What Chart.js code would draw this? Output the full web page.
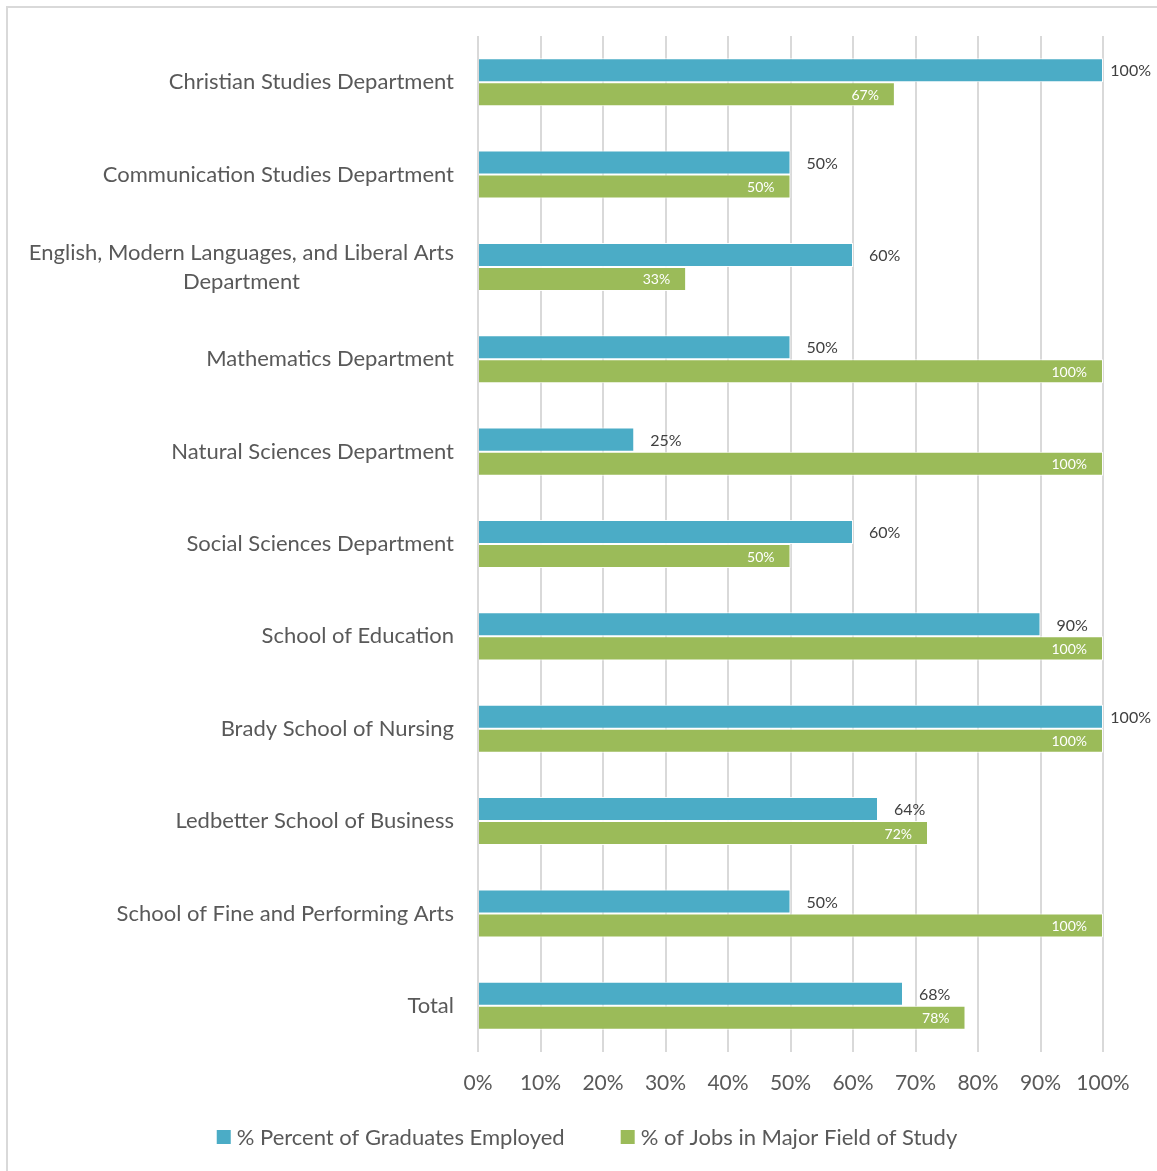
<!DOCTYPE html>
<html>
<head>
<meta charset="utf-8">
<script src="https://cdn.jsdelivr.net/npm/chart.js@4.4.0/dist/chart.umd.min.js"></script>
<style>
  html, body { margin: 0; padding: 0; background: #fff; overflow: hidden; }
</style>
</head>
<body>
<canvas id="myChart" width="1157" height="1171"></canvas>
<script>
// Chart data
const categories = [
  ['Christian Studies Department'],
  ['Communication Studies Department'],
  ['English, Modern Languages, and Liberal Arts', 'Department'],
  ['Mathematics Department'],
  ['Natural Sciences Department'],
  ['Social Sciences Department'],
  ['School of Education'],
  ['Brady School of Nursing'],
  ['Ledbetter School of Business'],
  ['School of Fine and Performing Arts'],
  ['Total']
];
const employed = [100, 50, 60, 50, 25, 60, 90, 100, 64, 50, 68];
const jobsInField = [66.7, 50, 33.3, 100, 100, 50, 100, 100, 72, 100, 78];
const seriesNames = ['% Percent of Graduates Employed', '% of Jobs in Major Field of Study'];
const seriesColors = ['#4bacc6', '#9bbb59'];
const xTickValues = [0, 10, 20, 30, 40, 50, 60, 70, 80, 90, 100];

const FONT = 'Lato, "Open Sans", sans-serif';

// light frame round the chart (top and left edges only are visible)
const framePlugin = {
  id: 'frame',
  beforeDraw(chart) {
    const ctx = chart.ctx;
    ctx.save();
    ctx.strokeStyle = '#d9d9d9';
    ctx.lineWidth = 2;
    ctx.beginPath();
    ctx.moveTo(7, chart.height + 5);
    ctx.lineTo(7, 7);
    ctx.lineTo(chart.width + 5, 7);
    ctx.stroke();
    ctx.restore();
  }
};

// category labels: right aligned block, lines centred within it
const categoryLabels = {
  id: 'categoryLabels',
  afterDraw(chart) {
    const ctx = chart.ctx;
    const yScale = chart.scales.y;
    const right = chart.chartArea.left - 24;
    const lineH = 29;
    ctx.save();
    ctx.font = '22px ' + FONT;
    ctx.fillStyle = '#595959';
    ctx.textAlign = 'center';
    ctx.textBaseline = 'middle';
    categories.forEach((lines, i) => {
      const y = yScale.getPixelForValue(i);
      const maxW = Math.max(...lines.map(l => ctx.measureText(l).width));
      const cx = right - maxW / 2;
      const y0 = y - (lines.length - 1) * lineH / 2;
      lines.forEach((l, j) => ctx.fillText(l, cx, y0 + j * lineH));
    });
    ctx.restore();
  }
};

// value labels: outside end for the first series, inside end for the second
const barLabels = {
  id: 'barLabels',
  afterDatasetsDraw(chart) {
    const ctx = chart.ctx;
    chart.data.datasets.forEach((ds, di) => {
      const meta = chart.getDatasetMeta(di);
      meta.data.forEach((bar, i) => {
        const txt = Math.round(ds.data[i]) + '%';
        ctx.save();
        ctx.textBaseline = 'middle';
        if (di === 0) {
          ctx.font = '16px ' + FONT;
          ctx.fillStyle = '#404040';
          ctx.textAlign = 'left';
          const w = ctx.measureText(txt).width;
          let x = bar.x + 16;
          if (x + w > chart.width - 6) x = chart.width - 6 - w;
          ctx.fillText(txt, x, bar.y + 1);
        } else {
          ctx.font = '14px ' + FONT;
          ctx.fillStyle = '#ffffff';
          ctx.textAlign = 'right';
          ctx.fillText(txt, bar.x - 16, bar.y + 1);
        }
        ctx.restore();
      });
    });
  }
};

// legend below the axis
const bottomLegend = {
  id: 'bottomLegend',
  afterDraw(chart) {
    const ctx = chart.ctx;
    const box = 14, gapText = 6, gapItem = 56;
    ctx.save();
    ctx.font = '22px ' + FONT;
    ctx.textBaseline = 'middle';
    ctx.textAlign = 'left';
    const widths = chart.data.datasets.map(d => box + gapText + ctx.measureText(d.label).width);
    const total = widths.reduce((a, b) => a + b, 0) + gapItem * (widths.length - 1);
    let x = 587 - total / 2;
    const y = chart.height - 34;
    chart.data.datasets.forEach((d, i) => {
      ctx.fillStyle = d.backgroundColor;
      ctx.fillRect(x, y - box / 2, box, box);
      ctx.fillStyle = '#595959';
      ctx.fillText(d.label, x + box + gapText, y + 1);
      x += widths[i] + gapItem;
    });
    ctx.restore();
  }
};

const ctx = document.getElementById('myChart').getContext('2d');
const chart = new Chart(ctx, {
  type: 'bar',
  data: {
    labels: categories.map(c => c.join(' ')),
    datasets: [
      {
        label: seriesNames[0],
        data: employed,
        backgroundColor: seriesColors[0],
        borderColor: 'rgba(255,255,255,0.9)',
        borderWidth: 1
      },
      {
        label: seriesNames[1],
        data: jobsInField,
        backgroundColor: seriesColors[1],
        borderColor: 'rgba(255,255,255,0.9)',
        borderWidth: 1
      }
    ]
  },
  options: {
    indexAxis: 'y',
    responsive: false,
    animation: false,
    devicePixelRatio: 1,
    categoryPercentage: 0.52,
    barPercentage: 1,
    layout: {
      padding: { left: 0, right: 54, top: 36, bottom: 59 }
    },
    scales: {
      x: {
        min: 0,
        max: 100,
        afterBuildTicks: function(scale) {
          scale.ticks = xTickValues.map(v => ({ value: v }));
        },
        afterFit: function(scale) {
          scale.height = 60;
        },
        grid: {
          color: '#d9d9d9',
          lineWidth: 2,
          drawTicks: false
        },
        border: { display: false },
        ticks: {
          padding: 19,
          maxRotation: 0,
          autoSkip: false,
          color: '#595959',
          font: { family: FONT, size: 21 },
          callback: function(v) { return v + '%'; }
        }
      },
      y: {
        afterFit: function(scale) {
          scale.width = 478;
        },
        grid: { display: false },
        border: { display: false },
        ticks: { display: false }
      }
    },
    plugins: {
      legend: { display: false },
      tooltip: { enabled: false }
    }
  },
  plugins: [framePlugin, categoryLabels, barLabels, bottomLegend]
});
</script>
</body>
</html>
